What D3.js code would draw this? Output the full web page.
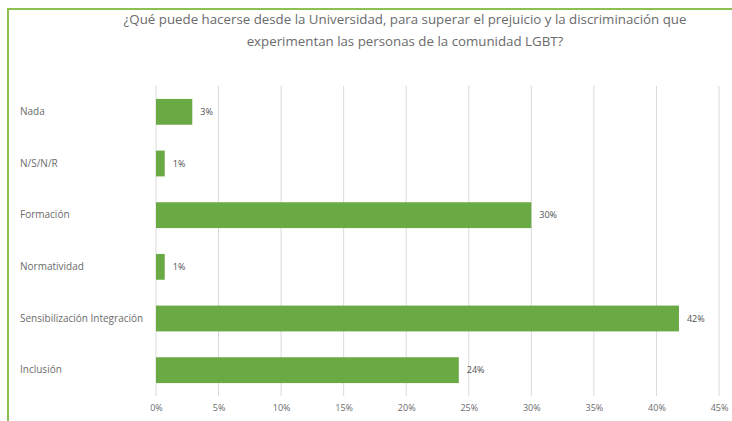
<!DOCTYPE html>
<html><head><meta charset="utf-8">
<script src="https://cdn.jsdelivr.net/npm/d3@7"></script>
<style>html,body{margin:0;padding:0;background:#fff;}svg{display:block;}</style>
</head><body>
<svg id="c" width="732" height="421"></svg>
<script>
const categories = ["Nada", "N/S/N/R", "Formación", "Normatividad", "Sensibilización Integración", "Inclusión"];
const values = [2.9, 0.7, 30, 0.7, 41.8, 24.2];
const valueLabels = ["3%", "1%", "30%", "1%", "42%", "24%"];
const ticks = [0, 5, 10, 15, 20, 25, 30, 35, 40, 45];
const titleLines = ["¿Qué puede hacerse desde la Universidad, para superar el prejuicio y la discriminación que", "experimentan las personas de la comunidad LGBT?"];

const svg = d3.select("#c");
const font = "'Open Sans', 'DejaVu Sans', sans-serif";

// frame
svg.append("line").attr("x1", 8).attr("x2", 732).attr("y1", 9).attr("y2", 9).attr("stroke", "#8cc152").attr("stroke-width", 2);
svg.append("line").attr("x1", 8).attr("x2", 8).attr("y1", 8).attr("y2", 421).attr("stroke", "#8cc152").attr("stroke-width", 2);

const x = d3.scaleLinear().domain([0, 45]).range([156, 719]);
const y = d3.scaleBand().domain(categories).range([86, 396]).paddingInner(0.5).paddingOuter(0.25);

// gridlines
svg.append("g").selectAll("line").data(ticks).join("line")
  .attr("x1", d => x(d)).attr("x2", d => x(d))
  .attr("y1", 86).attr("y2", 396)
  .attr("stroke", "#d9d9d9").attr("stroke-width", 1);

// axis labels
const xAxis = d3.axisBottom(x).tickValues(ticks).tickFormat(d => d + "%").tickSize(0).tickPadding(0);
const gx = svg.append("g").attr("transform", "translate(0,405)").call(xAxis);
gx.select(".domain").remove();
gx.selectAll("text").attr("fill", "#6b6b6b").attr("font-size", 9).attr("font-family", font);

// bars
svg.append("g").selectAll("rect").data(categories).join("rect")
  .attr("x", x(0)).attr("y", d => y(d))
  .attr("width", (d, i) => x(values[i]) - x(0))
  .attr("height", y.bandwidth())
  .attr("fill", "#6aaa45");

// value labels
svg.append("g").selectAll("text").data(categories).join("text")
  .attr("x", (d, i) => x(values[i]) + 8)
  .attr("y", d => y(d) + y.bandwidth() / 2)
  .attr("dy", "0.35em")
  .attr("font-size", 9).attr("font-family", font).attr("fill", "#505050")
  .text((d, i) => valueLabels[i]);

// category labels
const yAxis = d3.axisLeft(y).tickSize(0).tickPadding(0);
const gy = svg.append("g").attr("transform", "translate(20,0)").call(yAxis);
gy.select(".domain").remove();
gy.selectAll("text").attr("text-anchor", "start").attr("fill", "#6b6b6b").attr("font-size", 10).attr("font-family", font);

// title
svg.append("g").selectAll("text").data(titleLines).join("text")
  .attr("x", 405).attr("y", (d, i) => 24 + i * 22)
  .attr("text-anchor", "middle")
  .attr("font-size", 13.3).attr("font-family", font).attr("fill", "#6b6b6b")
  .text(d => d);
</script>
</body></html>
